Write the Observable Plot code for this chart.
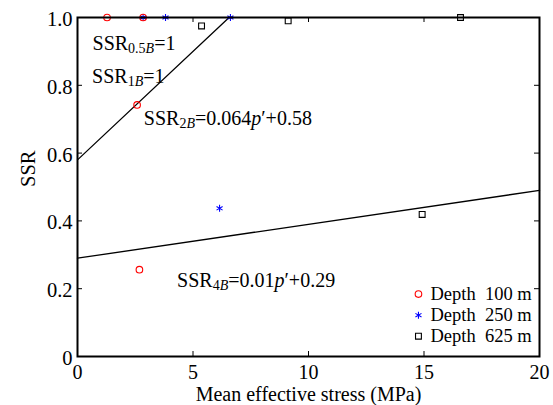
<!DOCTYPE html>
<html><head><meta charset="utf-8">
<script src="https://cdn.jsdelivr.net/npm/d3@7"></script>
<script src="https://cdn.jsdelivr.net/npm/@observablehq/plot@0.6"></script>
<style>body{margin:0;background:#fff} svg text{font-family:"Liberation Serif", "Times New Roman", serif !important;}</style>
</head><body><div id="chart"></div>
<script>
// ---- data ----
const depths = [100, 250, 625];
const p100 = [1.28, 2.84, 2.58, 2.68];
const ssr100 = [1.0, 1.0, 0.742, 0.256];
const p250 = [2.84, 3.81, 6.62, 6.15];
const ssr250 = [1.0, 1.0, 1.0, 0.437];
const p625 = [5.37, 9.12, 16.58, 14.92];
const ssr625 = [0.975, 0.99, 1.0, 0.419];
const fitNames = ["2B", "4B"];
const fitSlopes = [0.064, 0.01];
const fitIntercepts = [0.58, 0.29];
const xTicks = [0, 5, 10, 15, 20];
const xTickLabels = ["0", "5", "10", "15", "20"];
const yTicks = [0, 0.2, 0.4, 0.6, 0.8, 1.0];
const yTickLabels = ["0", "0.2", "0.4", "0.6", "0.8", "1.0"];
const annTexts = ["SSR0.5B=1", "SSR1B=1", "SSR2B=0.064p′+0.58", "SSR4B=0.01p′+0.29"];
const annSegments = [
  [["SSR",""],["0.5","sub"],["B","subi"],["=1",""]],
  [["SSR",""],["1","sub"],["B","subi"],["=1",""]],
  [["SSR",""],["2","sub"],["B","subi"],["=0.064",""],["p","i"],["′+0.58",""]],
  [["SSR",""],["4","sub"],["B","subi"],["=0.01",""],["p","i"],["′+0.29",""]]
];

// ---- layout ----
const W = 553, H = 405, mL = 77, mR = 14, mT = 17, mB = 49;
const xDom = [0, 20], yDom = [0, 1];
const tickPx = 5;
const tx = tickPx / ((W - mL - mR) / (xDom[1] - xDom[0]));
const ty = tickPx / ((H - mT - mB) / (yDom[1] - yDom[0]));
const annX = [0.65, 0.63, 2.87, 4.31];
const annY = [0.923, 0.826, 0.702, 0.225];
const legMarkerX = 14.76, legTextX = 15.28;
const legRowY = [0.184, 0.122, 0.060];
const font = "Liberation Serif";

const seriesStyle = [
  {symbol: "circle", stroke: "#ff0000"},
  {symbol: "asterisk", stroke: "#0000ff"},
  {symbol: "square", stroke: "#000000"}
];
const seriesData = [
  p100.map((p, i) => ({p, s: ssr100[i]})),
  p250.map((p, i) => ({p, s: ssr250[i]})),
  p625.map((p, i) => ({p, s: ssr625[i]}))
];

const fitLines = fitNames.flatMap((n, i) => {
  const end = Math.min(xDom[1], (yDom[1] - fitIntercepts[i]) / fitSlopes[i]);
  return [xDom[0], end].map(p => ({name: n, p, s: fitSlopes[i] * p + fitIntercepts[i]}));
});

const dotMarks = [2, 1, 0].map(k => Plot.dot(seriesData[k], {
  x: "p", y: "s", symbol: seriesStyle[k].symbol, r: 3.3,
  stroke: seriesStyle[k].stroke, fill: "none", strokeWidth: 1.1
}));
const legendDots = [0, 1, 2].map(k => Plot.dot([depths[k]], {
  x: () => legMarkerX, y: () => legRowY[k], symbol: seriesStyle[k].symbol, r: 3.3,
  stroke: seriesStyle[k].stroke, fill: "none", strokeWidth: 1.1
}));

const chart = Plot.plot({
  width: W, height: H,
  marginLeft: mL, marginRight: mR, marginTop: mT, marginBottom: mB,
  style: {fontFamily: font, fontSize: "20px", background: "#fff", color: "#000"},
  x: {domain: xDom, axis: null},
  y: {domain: yDom, axis: null},
  marks: [
    Plot.line(fitLines, {x: "p", y: "s", z: "name", stroke: "#000", strokeWidth: 1.3}),
    ...dotMarks,
    ...legendDots,
    Plot.text(depths, {x: () => legTextX, y: (d, i) => legRowY[i], text: d => `Depth\u00a0\u00a0${d} m`,
      textAnchor: "start", fontSize: 18.5, fontFamily: font}),
    Plot.text(annTexts, {x: (d, i) => annX[i], y: (d, i) => annY[i], text: d => d,
      textAnchor: "start", fontSize: 20, fontFamily: font}),
    // inward ticks on all four sides
    Plot.ruleX(xTicks, {x: d => d, y1: () => yDom[0], y2: () => yDom[0] + ty, stroke: "#000", strokeWidth: 1}),
    Plot.ruleX(xTicks, {x: d => d, y1: () => yDom[1], y2: () => yDom[1] - ty, stroke: "#000", strokeWidth: 1}),
    Plot.ruleY(yTicks, {y: d => d, x1: () => xDom[0], x2: () => xDom[0] + tx, stroke: "#000", strokeWidth: 1}),
    Plot.ruleY(yTicks, {y: d => d, x1: () => xDom[1], x2: () => xDom[1] - tx, stroke: "#000", strokeWidth: 1}),
    // tick labels
    Plot.text(xTicks, {x: d => d, y: () => yDom[0], text: (d, i) => xTickLabels[i], dy: 16, fontSize: 20, fontFamily: font}),
    Plot.text(yTicks, {x: () => xDom[0], y: d => d, text: (d, i) => yTickLabels[i], textAnchor: "end", dx: -5, dy: 2, fontSize: 20.5, fontFamily: font}),
    // axis titles
    Plot.text(["Mean effective stress (MPa)"], {frameAnchor: "bottom", lineAnchor: "middle", dy: 38.5, fontSize: 20, fontFamily: font}),
    Plot.text(["SSR"], {frameAnchor: "left", lineAnchor: "middle", dx: -49, rotate: -90, fontSize: 20.5, fontFamily: font}),
    Plot.frame({stroke: "#000", strokeWidth: 2})
  ]
});

// rich text for annotations (subscripts, italics)
const NS = "http://www.w3.org/2000/svg";
chart.querySelectorAll("text").forEach(el => {
  const idx = annTexts.indexOf(el.textContent);
  if (idx < 0) return;
  while (el.firstChild) el.removeChild(el.firstChild);
  let shift = 0;
  for (const [s, k] of annSegments[idx]) {
    const t = document.createElementNS(NS, "tspan");
    t.textContent = s;
    const sub = k.startsWith("sub");
    const target = sub ? 3 : 0;
    if (target !== shift) { t.setAttribute("dy", target - shift); shift = target; }
    if (sub) t.setAttribute("font-size", 14);
    if (k.endsWith("i")) t.setAttribute("font-style", "italic");
    el.appendChild(t);
  }
});

document.getElementById("chart").appendChild(chart);
</script>
</body></html>
